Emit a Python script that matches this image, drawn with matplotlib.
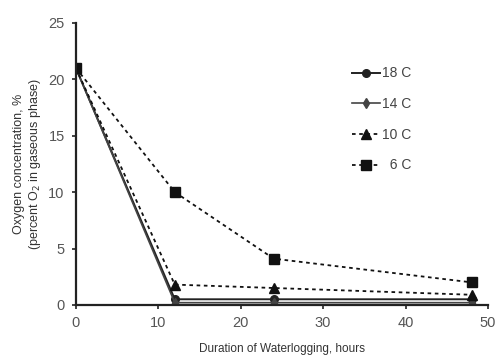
"""Oxygen concentration in the gaseous phase during waterlogging at four temperatures."""

import matplotlib.pyplot as plt

hours = [0, 12, 24, 48]
o2_18c = [21.0, 0.5, 0.5, 0.5]
o2_14c = [21.0, 0.2, 0.2, 0.2]
o2_10c = [21.0, 1.8, 1.5, 0.9]
o2_6c = [21.0, 10.0, 4.1, 2.0]
labels = ["18 C", "14 C", "10 C", "  6 C"]


def main() -> None:
    plt.rcParams["font.family"] = ["Liberation Sans", "DejaVu Sans"]

    fig = plt.figure(figsize=(4.99, 3.63), dpi=100)
    ax = fig.add_axes([0.152, 0.16, 0.826, 0.777])

    ax.plot(hours, o2_18c, color="#222222", lw=1.4, marker="o", ms=5.5, label=labels[0])
    ax.plot(hours, o2_14c, color="#444444", lw=1.2, marker="d", ms=5, label=labels[1])
    ax.plot(hours, o2_10c, color="#111111", lw=1.3, ls=(0, (2, 2)), marker="^", ms=7,
            label=labels[2])
    ax.plot(hours, o2_6c, color="#111111", lw=1.3, ls=(0, (2, 2)), marker="s", ms=7.5,
            label=labels[3])

    ax.set_xlim(0, 50)
    ax.set_ylim(0, 25)
    ax.set_xticks([0, 10, 20, 30, 40, 50])
    ax.set_yticks([0, 5, 10, 15, 20, 25])
    for side in ("top", "right"):
        ax.spines[side].set_visible(False)
    for side in ("left", "bottom"):
        ax.spines[side].set_linewidth(1.6)
        ax.spines[side].set_color("#222222")
    ax.tick_params(direction="out", length=3, width=1.2, labelsize=10.5, colors="#222222",
                   labelcolor="#555555", pad=5)

    ax.set_xlabel("Duration of Waterlogging, hours", fontsize=8.5, color="#333333", labelpad=9)
    ax.set_ylabel("Oxygen concentration, %\n(percent O$_2$ in gaseous phase)", fontsize=9,
                  color="#333333", labelpad=4)

    ax.legend(loc="upper left", bbox_to_anchor=(0.64, 0.89), frameon=False, fontsize=10,
              handlelength=2.0, handletextpad=0.15, labelspacing=1.2, labelcolor="#444444")

    fig.savefig("out.png", dpi=100)
    plt.close(fig)


if __name__ == "__main__":
    main()
